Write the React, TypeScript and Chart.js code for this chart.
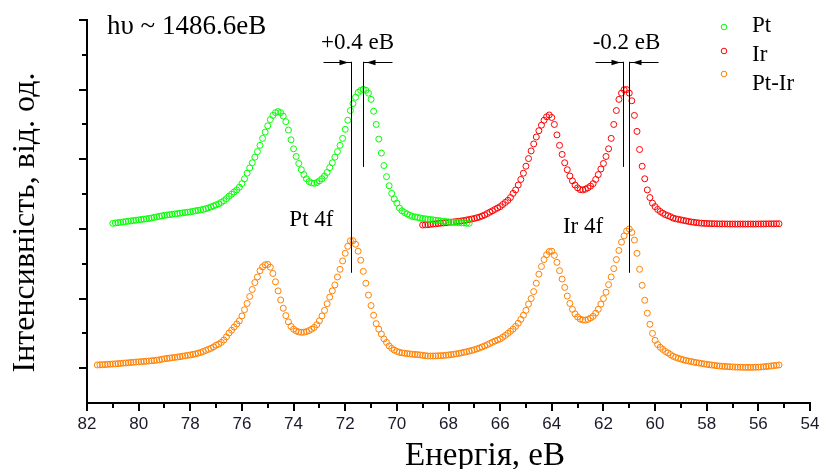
import React, { useEffect, useRef } from 'react';
import { Chart, registerables } from 'chart.js';

Chart.register(...registerables);

// ---------- data (energy eV, intensity arb. units) ----------
const seriesNames = ['Pt', 'Ir', 'Pt-Ir'];
const seriesColors = ['#00ff00', '#ff0000', '#ff8000'];

const ptPoints: [number, number][] = [
  [81.0, 2.08], [80.9, 2.085], [80.8, 2.09], [80.7, 2.095], [80.6, 2.1], [80.5, 2.105], [80.4, 2.11], [80.3, 2.115], [80.2, 2.12], [80.1, 2.125],
  [80.0, 2.13], [79.9, 2.135], [79.8, 2.14], [79.7, 2.145], [79.6, 2.15], [79.5, 2.157], [79.4, 2.165], [79.3, 2.172], [79.2, 2.18], [79.1, 2.188],
  [79.0, 2.195], [78.9, 2.2], [78.8, 2.205], [78.7, 2.21], [78.6, 2.215], [78.5, 2.22], [78.4, 2.225], [78.3, 2.23], [78.2, 2.235], [78.1, 2.24],
  [78.0, 2.245], [77.9, 2.252], [77.8, 2.26], [77.7, 2.266], [77.6, 2.272], [77.5, 2.28], [77.4, 2.29], [77.3, 2.302], [77.2, 2.315], [77.1, 2.33], [77.0, 2.345],
  [76.9, 2.36], [76.8, 2.38], [76.7, 2.405], [76.6, 2.435], [76.5, 2.47], [76.4, 2.5], [76.3, 2.53], [76.2, 2.56], [76.1, 2.6], [76.0, 2.65],
  [75.9, 2.72], [75.8, 2.8], [75.7, 2.875], [75.6, 2.95], [75.5, 3.03], [75.4, 3.11], [75.3, 3.2], [75.2, 3.3], [75.1, 3.39], [75.0, 3.48],
  [74.9, 3.57], [74.8, 3.63], [74.7, 3.67], [74.6, 3.685], [74.5, 3.67], [74.4, 3.62], [74.3, 3.54], [74.2, 3.42], [74.1, 3.28], [74.0, 3.15],
  [73.9, 3.04], [73.8, 2.94], [73.7, 2.85], [73.6, 2.78], [73.5, 2.72], [73.4, 2.68], [73.3, 2.66], [73.2, 2.655], [73.1, 2.665], [73.0, 2.69],
  [72.9, 2.72], [72.8, 2.76], [72.7, 2.81], [72.6, 2.88], [72.5, 2.95], [72.4, 3.03], [72.3, 3.11], [72.2, 3.2], [72.1, 3.3], [72.0, 3.43],
  [71.9, 3.56], [71.8, 3.7], [71.7, 3.8], [71.6, 3.89], [71.5, 3.96], [71.4, 3.99], [71.3, 4.005], [71.2, 3.99], [71.1, 3.95], [71.0, 3.86],
  [70.9, 3.69], [70.8, 3.5], [70.7, 3.29], [70.6, 3.09], [70.5, 2.91], [70.4, 2.75], [70.3, 2.62], [70.2, 2.51], [70.1, 2.43], [70.0, 2.37],
  [69.9, 2.3], [69.8, 2.26], [69.7, 2.235], [69.6, 2.215],
  [69.5, 2.195], [69.4, 2.18], [69.3, 2.172], [69.2, 2.165], [69.1, 2.157], [69.0, 2.15], [68.9, 2.145], [68.8, 2.14], [68.7, 2.135], [68.6, 2.13],
  [68.5, 2.125], [68.4, 2.12], [68.3, 2.115], [68.2, 2.11], [68.1, 2.105], [68.0, 2.1], [67.9, 2.097], [67.8, 2.095], [67.7, 2.092], [67.6, 2.09],
  [67.5, 2.087], [67.4, 2.085], [67.3, 2.082], [67.2, 2.08],
];

const irPoints: [number, number][] = [
  [69.0, 2.056], [68.9, 2.058], [68.8, 2.06], [68.7, 2.065], [68.6, 2.07], [68.5, 2.074], [68.4, 2.078], [68.3, 2.082], [68.2, 2.085], [68.1, 2.09],
  [68.0, 2.095], [67.9, 2.097], [67.8, 2.1], [67.7, 2.105], [67.6, 2.11], [67.5, 2.115], [67.4, 2.12], [67.3, 2.128], [67.2, 2.135], [67.1, 2.142],
  [67.0, 2.15], [66.9, 2.16], [66.8, 2.17], [66.7, 2.185], [66.6, 2.2], [66.5, 2.22], [66.4, 2.24], [66.3, 2.26], [66.2, 2.28],
  [66.1, 2.3], [66.0, 2.32], [65.9, 2.35], [65.8, 2.38], [65.7, 2.41], [65.6, 2.45], [65.5, 2.51], [65.4, 2.56], [65.3, 2.63], [65.2, 2.71],
  [65.1, 2.8], [65.0, 2.9], [64.9, 3.01], [64.8, 3.12], [64.7, 3.22], [64.6, 3.32], [64.5, 3.41], [64.4, 3.49], [64.3, 3.56], [64.2, 3.61],
  [64.1, 3.636], [64.0, 3.6], [63.9, 3.5], [63.8, 3.35], [63.7, 3.2], [63.6, 3.07], [63.5, 2.95], [63.4, 2.85], [63.3, 2.76], [63.2, 2.69],
  [63.1, 2.63], [63.0, 2.59], [62.9, 2.565], [62.8, 2.56], [62.7, 2.57], [62.6, 2.59], [62.5, 2.615], [62.4, 2.65], [62.3, 2.71], [62.2, 2.78],
  [62.1, 2.86], [62.0, 2.94], [61.9, 3.04], [61.8, 3.15], [61.7, 3.3], [61.6, 3.5], [61.5, 3.7], [61.4, 3.86], [61.3, 3.95], [61.2, 4.0],
  [61.1, 4.0], [61.0, 3.95], [60.9, 3.84], [60.8, 3.63], [60.7, 3.4], [60.6, 3.14], [60.5, 2.9], [60.4, 2.72], [60.3, 2.56], [60.2, 2.45],
  [60.1, 2.37], [60.0, 2.32], [59.9, 2.28], [59.8, 2.25], [59.7, 2.225], [59.6, 2.205], [59.5, 2.19], [59.4, 2.175], [59.3, 2.155], [59.2, 2.145],
  [59.1, 2.138], [59.0, 2.13], [58.9, 2.122], [58.8, 2.115], [58.7, 2.107], [58.6, 2.1], [58.5, 2.095], [58.4, 2.09], [58.3, 2.086], [58.2, 2.082],
  [58.1, 2.08], [58.0, 2.078], [57.9, 2.076], [57.8, 2.075], [57.7, 2.074], [57.6, 2.073], [57.5, 2.072], [57.4, 2.072], [57.3, 2.071], [57.2, 2.071],
  [57.1, 2.07], [57.0, 2.07], [56.9, 2.07], [56.8, 2.07], [56.7, 2.07], [56.6, 2.07], [56.5, 2.07], [56.4, 2.07], [56.3, 2.07], [56.2, 2.07],
  [56.1, 2.07], [56.0, 2.071], [55.9, 2.071], [55.8, 2.072], [55.7, 2.072], [55.6, 2.073], [55.5, 2.073], [55.4, 2.073], [55.3, 2.074], [55.2, 2.074],
];

const ptIrPoints: [number, number][] = [
  [81.6, 0.046], [81.5, 0.048], [81.4, 0.05], [81.3, 0.052], [81.2, 0.055], [81.1, 0.057], [81.0, 0.06], [80.9, 0.062], [80.8, 0.065], [80.7, 0.068],
  [80.6, 0.072], [80.5, 0.075], [80.4, 0.078], [80.3, 0.082], [80.2, 0.085], [80.1, 0.088], [80.0, 0.09], [79.9, 0.094], [79.8, 0.097], [79.7, 0.1],
  [79.6, 0.103], [79.5, 0.107], [79.4, 0.11], [79.3, 0.115], [79.2, 0.12], [79.1, 0.128], [79.0, 0.135], [78.9, 0.14], [78.8, 0.145], [78.7, 0.15],
  [78.6, 0.155], [78.5, 0.16], [78.4, 0.165], [78.3, 0.172], [78.2, 0.178], [78.1, 0.184], [78.0, 0.19], [77.9, 0.197], [77.8, 0.205], [77.7, 0.215],
  [77.6, 0.225], [77.5, 0.24], [77.4, 0.255], [77.3, 0.27], [77.2, 0.285], [77.1, 0.305], [77.0, 0.33],
  [76.9, 0.345], [76.8, 0.37], [76.7, 0.405], [76.6, 0.45], [76.5, 0.505], [76.4, 0.545], [76.3, 0.59], [76.2, 0.635], [76.1, 0.68], [76.0, 0.75],
  [75.9, 0.84], [75.8, 0.93], [75.7, 1.03], [75.6, 1.13], [75.5, 1.23], [75.4, 1.31], [75.3, 1.4], [75.2, 1.455], [75.1, 1.485], [75.0, 1.49],
  [74.9, 1.45], [74.8, 1.36], [74.7, 1.24], [74.6, 1.11], [74.5, 0.98], [74.4, 0.86], [74.3, 0.755], [74.2, 0.665], [74.1, 0.6], [74.0, 0.56],
  [73.9, 0.535], [73.8, 0.52], [73.7, 0.515], [73.6, 0.517], [73.5, 0.525], [73.4, 0.54], [73.3, 0.56], [73.2, 0.585], [73.1, 0.625], [73.0, 0.68],
  [72.9, 0.75], [72.8, 0.83], [72.7, 0.925], [72.6, 1.02], [72.5, 1.11], [72.4, 1.195], [72.3, 1.31], [72.2, 1.42], [72.1, 1.54], [72.0, 1.65],
  [71.9, 1.75], [71.8, 1.83], [71.7, 1.83], [71.6, 1.78], [71.5, 1.68], [71.4, 1.55], [71.3, 1.39], [71.2, 1.22], [71.1, 1.05], [71.0, 0.9],
  [70.9, 0.76], [70.8, 0.64], [70.7, 0.56], [70.6, 0.49], [70.5, 0.42], [70.4, 0.37], [70.3, 0.32], [70.2, 0.285], [70.1, 0.26], [70.0, 0.24],
  [69.9, 0.228], [69.8, 0.22], [69.7, 0.215], [69.6, 0.21],
  [69.5, 0.205], [69.4, 0.2], [69.3, 0.197], [69.2, 0.195], [69.1, 0.19], [69.0, 0.185], [68.9, 0.18], [68.8, 0.175], [68.7, 0.175], [68.6, 0.175],
  [68.5, 0.176], [68.4, 0.178], [68.3, 0.18], [68.2, 0.182], [68.1, 0.186], [68.0, 0.19], [67.9, 0.195], [67.8, 0.2], [67.7, 0.206], [67.6, 0.212],
  [67.5, 0.22], [67.4, 0.228], [67.3, 0.236], [67.2, 0.245], [67.1, 0.255], [67.0, 0.265], [66.9, 0.277], [66.8, 0.29], [66.7, 0.305], [66.6, 0.32],
  [66.5, 0.337], [66.4, 0.355], [66.3, 0.372], [66.2, 0.39],
  [66.1, 0.405], [66.0, 0.42], [65.9, 0.445], [65.8, 0.47], [65.7, 0.5], [65.6, 0.53], [65.5, 0.56], [65.4, 0.6], [65.3, 0.645], [65.2, 0.7],
  [65.1, 0.76], [65.0, 0.83], [64.9, 0.92], [64.8, 1.0], [64.7, 1.1], [64.6, 1.22], [64.5, 1.35], [64.4, 1.46], [64.3, 1.56], [64.2, 1.63],
  [64.1, 1.675], [64.0, 1.68], [63.9, 1.62], [63.8, 1.52], [63.7, 1.4], [63.6, 1.28], [63.5, 1.16], [63.4, 1.035], [63.3, 0.93], [63.2, 0.845],
  [63.1, 0.78], [63.0, 0.735], [62.9, 0.705], [62.8, 0.692], [62.7, 0.69], [62.6, 0.7], [62.5, 0.72], [62.4, 0.745], [62.3, 0.79], [62.2, 0.845],
  [62.1, 0.92], [62.0, 1.0], [61.9, 1.09], [61.8, 1.2], [61.7, 1.31], [61.6, 1.43], [61.5, 1.56], [61.4, 1.69], [61.3, 1.81], [61.2, 1.9],
  [61.1, 1.97], [61.0, 2.0], [60.9, 1.95], [60.8, 1.84], [60.7, 1.65], [60.6, 1.42], [60.5, 1.19], [60.4, 0.975], [60.3, 0.79], [60.2, 0.63],
  [60.1, 0.5], [60.0, 0.4], [59.9, 0.34], [59.8, 0.3], [59.7, 0.27], [59.6, 0.24], [59.5, 0.22], [59.4, 0.195], [59.3, 0.17], [59.2, 0.155],
  [59.1, 0.142], [59.0, 0.13], [58.9, 0.12], [58.8, 0.11], [58.7, 0.102], [58.6, 0.095], [58.5, 0.087], [58.4, 0.08], [58.3, 0.074], [58.2, 0.068],
  [58.1, 0.061], [58.0, 0.055], [57.9, 0.05], [57.8, 0.045], [57.7, 0.04], [57.6, 0.035], [57.5, 0.031], [57.4, 0.028], [57.3, 0.025], [57.2, 0.022],
  [57.1, 0.02], [57.0, 0.018], [56.9, 0.016], [56.8, 0.015], [56.7, 0.014], [56.6, 0.013], [56.5, 0.012], [56.4, 0.012], [56.3, 0.012], [56.2, 0.013],
  [56.1, 0.014], [56.0, 0.015], [55.9, 0.017], [55.8, 0.02], [55.7, 0.024], [55.6, 0.028], [55.5, 0.032], [55.4, 0.037], [55.3, 0.041], [55.2, 0.046],
];

const xMin = 54;
const xMax = 82;
const yMin = -0.5;
const yMax = 5;

// chemical-shift annotations: vertical lines at pure metal and alloy peak energies
const shiftMarks = [
  { label: '+0.4 еВ', pureE: 71.31, alloyE: 71.76 },
  { label: '-0.2 еВ', pureE: 61.23, alloyE: 61.0 },
];
const shiftTopV = 4.4;
const pureLineBottomV = 2.89;
const alloyLineBottomV = 1.37;

const peakLabels = [
  { text: 'Pt 4f', e: 73.31, v: 2.04 },
  { text: 'Ir 4f', e: 62.79, v: 1.94 },
];

const photonText = 'hυ ~ 1486.6еВ';
const xTitle = 'Енергія, еВ';
const yTitle = 'Інтенсивність, від. од.';

const SERIF = '"Liberation Serif", "Times New Roman", serif';
const SANS = '"Liberation Sans", Arial, sans-serif';

const decorPlugin = {
  id: 'decor',
  afterDraw(chart: any) {
    const ctx: CanvasRenderingContext2D = chart.ctx;
    const xs = chart.scales.x;
    const ys = chart.scales.y;
    const area = chart.chartArea;
    ctx.save();

    // tick marks
    ctx.strokeStyle = '#000';
    ctx.lineWidth = 2;
    for (let e = xMin; e <= xMax; e += 1) {
      const px = Math.round(xs.getPixelForValue(e));
      const major = e % 2 === 0;
      ctx.beginPath();
      ctx.moveTo(px, area.bottom);
      ctx.lineTo(px, area.bottom + (major ? 8 : 5));
      ctx.stroke();
    }
    for (let v = 0; v <= yMax + 0.001; v += 0.5) {
      const py = Math.round(ys.getPixelForValue(v));
      const major = Math.abs(v - Math.round(v)) < 0.01;
      ctx.beginPath();
      ctx.moveTo(area.left, py);
      ctx.lineTo(area.left - (major ? 8 : 5), py);
      ctx.stroke();
    }

    // shift annotations
    ctx.lineWidth = 1;
    ctx.strokeStyle = '#000';
    ctx.fillStyle = '#000';
    const topY = ys.getPixelForValue(shiftTopV);
    shiftMarks.forEach((m) => {
      const pureX = Math.round(xs.getPixelForValue(m.pureE)) + 0.5;
      const alloyX = Math.round(xs.getPixelForValue(m.alloyE)) + 0.5;
      ctx.beginPath();
      ctx.moveTo(pureX, topY);
      ctx.lineTo(pureX, ys.getPixelForValue(pureLineBottomV));
      ctx.moveTo(alloyX, topY);
      ctx.lineTo(alloyX, ys.getPixelForValue(alloyLineBottomV));
      ctx.stroke();
      const lx = Math.min(pureX, alloyX);
      const rx = Math.max(pureX, alloyX);
      const ay = Math.round(topY) + 0.5;
      ctx.beginPath();
      ctx.moveTo(lx - 28, ay);
      ctx.lineTo(lx, ay);
      ctx.moveTo(rx, ay);
      ctx.lineTo(rx + 29, ay);
      ctx.stroke();
      // arrow heads
      ctx.beginPath();
      ctx.moveTo(lx - 3, ay);
      ctx.lineTo(lx - 12, ay - 2.8);
      ctx.lineTo(lx - 12, ay + 2.8);
      ctx.closePath();
      ctx.fill();
      ctx.beginPath();
      ctx.moveTo(rx + 3, ay);
      ctx.lineTo(rx + 12, ay - 2.8);
      ctx.lineTo(rx + 12, ay + 2.8);
      ctx.closePath();
      ctx.fill();
      ctx.font = `23px ${SERIF}`;
      ctx.textAlign = 'center';
      ctx.textBaseline = 'alphabetic';
      ctx.fillText(m.label, (lx + rx) / 2, ay - 14);
    });

    // peak labels
    ctx.font = `23px ${SERIF}`;
    ctx.textAlign = 'center';
    ctx.textBaseline = 'alphabetic';
    peakLabels.forEach((p) => {
      ctx.fillText(p.text, xs.getPixelForValue(p.e), ys.getPixelForValue(p.v));
    });

    // photon energy
    ctx.textAlign = 'left';
    ctx.font = `27px ${SERIF}`;
    ctx.fillText(photonText, area.left + 20, area.top + 14);

    // legend
    ctx.font = `23px ${SERIF}`;
    const markerYs = [27, 51, 74];
    const textYs = [32, 61, 90];
    seriesNames.forEach((name, i) => {
      ctx.strokeStyle = seriesColors[i];
      ctx.lineWidth = 1;
      ctx.beginPath();
      ctx.arc(724, markerYs[i], 2.8, 0, Math.PI * 2);
      ctx.stroke();
      ctx.fillStyle = '#000';
      ctx.fillText(name, 752, textYs[i]);
    });

    // axis titles
    ctx.fillStyle = '#000';
    ctx.font = `33px ${SERIF}`;
    ctx.textAlign = 'center';
    ctx.fillText(xTitle, 485, 465);
    ctx.save();
    ctx.translate(34, (area.top + area.bottom) / 2 + 11);
    ctx.rotate(-Math.PI / 2);
    ctx.font = `32px ${SERIF}`;
    ctx.fillText(yTitle, 0, 0);
    ctx.restore();

    ctx.restore();
  },
};

export default function App() {
  const canvasRef = useRef<HTMLCanvasElement | null>(null);

  useEffect(() => {
    document.body.style.margin = '0';
    const canvas = canvasRef.current;
    if (!canvas) return;
    const mk = (pts: [number, number][], i: number) => ({
      label: seriesNames[i],
      data: pts.map(([x, y]) => ({ x, y })),
      showLine: false,
      pointStyle: 'circle',
      pointRadius: 3,
      pointBorderWidth: 1,
      pointBackgroundColor: 'rgba(0,0,0,0)',
      pointBorderColor: seriesColors[i],
      borderColor: seriesColors[i],
    });
    const chart = new Chart(canvas, {
      type: 'scatter',
      data: {
        datasets: [mk(ptPoints, 0), mk(irPoints, 1), mk(ptIrPoints, 2)],
      },
      options: {
        animation: false,
        responsive: false,
        devicePixelRatio: 1,
        layout: { padding: { left: 0, right: 9, top: 20, bottom: 0 } },
        plugins: {
          legend: { display: false },
          tooltip: { enabled: false },
        },
        scales: {
          x: {
            type: 'linear',
            reverse: true,
            min: xMin,
            max: xMax,
            grid: { display: false },
            border: { display: true, color: '#000', width: 2 },
            ticks: {
              stepSize: 2,
              padding: 3,
              color: '#1a1a2a',
              font: { family: SANS, size: 17 },
              maxRotation: 0,
            },
            afterFit(scale: any) {
              scale.height = 66;
              scale.paddingRight = 0;
              scale.paddingLeft = 0;
            },
          },
          y: {
            type: 'linear',
            min: yMin,
            max: yMax,
            grid: { display: false },
            border: { display: true, color: '#000', width: 2 },
            ticks: { display: false },
            afterFit(scale: any) {
              scale.width = 87;
              scale.paddingTop = 0;
              scale.paddingBottom = 0;
            },
          },
        },
      } as any,
      plugins: [decorPlugin],
    });
    return () => chart.destroy();
  }, []);

  return (
    <div style={{ width: 819, height: 469 }}>
      <canvas ref={canvasRef} width={819} height={469} style={{ width: 819, height: 469, display: 'block' }} />
    </div>
  );
}
